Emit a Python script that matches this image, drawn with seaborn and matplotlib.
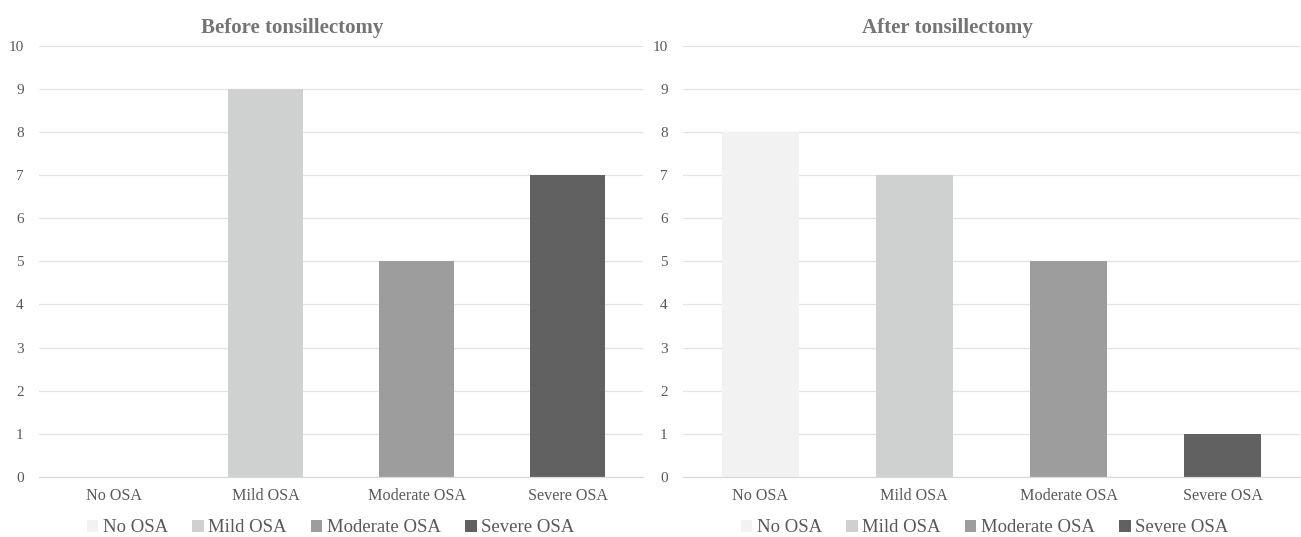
import seaborn as sns
import matplotlib.pyplot as plt
import pandas as pd

# Dane
categories = ["No OSA", "Mild OSA", "Moderate OSA", "Severe OSA"]
before = [0, 9, 5, 7]
after = [8, 7, 5, 1]
titles = ["Before tonsillectomy", "After tonsillectomy"]
colors = ["#F2F2F2", "#CFD1D0", "#9D9D9D", "#616161"]

sns.set_style("white")
plt.rcParams["font.family"] = ["Liberation Serif", "DejaVu Serif"]

text_color = "#595959"
grid_color = "#E3E3E3"

fig = plt.figure(figsize=(13.01, 5.37), dpi=100)
ax_left = fig.add_axes([39 / 1301, 60 / 537, 604 / 1301, 431.3 / 537])
ax_right = fig.add_axes([683 / 1301, 60 / 537, 617 / 1301, 431.3 / 537])

panels = [
    (ax_left, before, titles[0], 0.42, 0.483),
    (ax_right, after, titles[1], 0.428, 0.489),
]

for ax, values, title, title_x, legend_x in panels:
    df = pd.DataFrame({"Kategoria": categories, "Liczba": values})

    # Wykres słupkowy
    sns.barplot(
        data=df,
        x="Kategoria",
        y="Liczba",
        hue="Kategoria",
        palette=colors,
        saturation=1,
        width=0.5,
        linewidth=0,
        legend=True,
        ax=ax,
    )

    # Ustawienia osi
    ax.set_xlim(-0.5, 3.5)
    ax.set_ylim(0, 10)
    ax.set_yticks(range(0, 11))
    ax.set_xlabel("")
    ax.set_ylabel("")

    ax.grid(True, axis="y", color=grid_color, linewidth=0.9)
    ax.set_axisbelow(True)
    for side in ["top", "right", "left"]:
        ax.spines[side].set_visible(False)
    ax.spines["bottom"].set_color("#D9D9D9")
    ax.spines["bottom"].set_linewidth(0.9)

    ax.tick_params(axis="y", length=0, pad=11, labelsize=11, labelcolor=text_color)
    ax.tick_params(axis="x", which="major", length=0, pad=8, labelsize=11.6,
                   labelcolor=text_color)
    ax.set_xticks([-0.5, 0.5, 1.5, 2.5, 3.5], minor=True)
    ax.tick_params(axis="x", which="minor", length=4, width=0.9, color="#D9D9D9")

    # Tytuł
    ax.set_title(title, x=title_x, y=1.0, pad=9, fontsize=15, fontweight="bold",
                 color="#747474")

    # Legenda pod wykresem
    handles, labels = ax.get_legend_handles_labels()
    ax.legend(
        handles,
        labels,
        loc="center",
        bbox_to_anchor=(legend_x, -0.118),
        ncol=4,
        frameon=False,
        fontsize=13.5,
        handlelength=0.6,
        handleheight=0.6,
        handletextpad=0.25,
        columnspacing=1.3,
        labelcolor=text_color,
    )

plt.savefig("out.png", dpi=100)
